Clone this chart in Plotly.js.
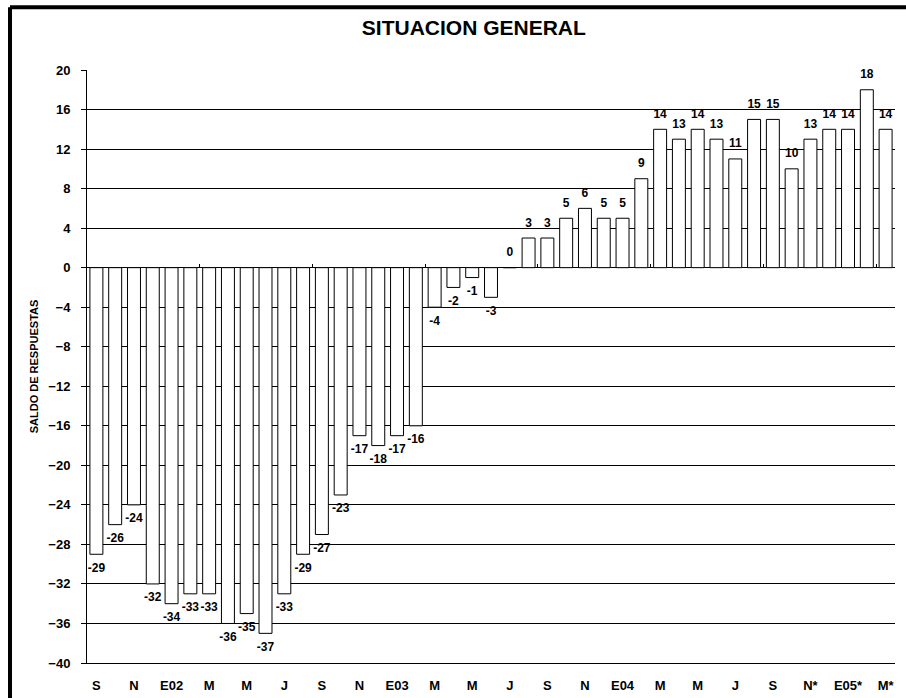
<!DOCTYPE html>
<html>
<head>
<meta charset="utf-8">
<script src="https://cdn.plot.ly/plotly-3.0.1.min.js"></script>
<style>html,body{margin:0;padding:0;background:#fff;}#chart{width:906px;height:698px;}</style>
</head>
<body>
<div id="chart"></div>
<script>
// Monthly balance of responses, Sep 2001 .. May 2005
var values = [-29,-26,-24,-32,-34,-33,-33,-36,-35,-37,-33,-29,-27,-23,-17,-18,-17,-16,-4,-2,-1,-3,0,3,3,5,6,5,5,9,14,13,14,13,11,15,15,10,13,14,14,18,14];
// Tick labels, one every two months
var tickLabels = ['S','N','E02','M','M','J','S','N','E03','M','M','J','S','N','E04','M','M','J','S','N*','E05*','M*'];
var titleText = 'SITUACION GENERAL';
var yTitleText = 'SALDO DE RESPUESTAS';

var xIdx = values.map(function(v,i){return i;});
var tickVals = tickLabels.map(function(t,i){return i*2;});
var sepTicks = [];
for (var k = 5.5; k < values.length; k += 6) sepTicks.push(k);

var FONT = 'Liberation Sans, Arial, sans-serif';

var traces = [
  {
    type: 'bar',
    x: xIdx,
    y: values,
    marker: {color: '#ffffff', line: {color: '#000000', width: 1}},
    hoverinfo: 'x+y',
    showlegend: false
  },
  {
    type: 'scatter', mode: 'markers+text',
    x: xIdx, y: values,
    text: values.map(String),
    textposition: values.map(function(v){return v < 0 ? 'bottom center' : 'top center';}),
    marker: {size: 12, opacity: 0},
    cliponaxis: false,
    textfont: {family: FONT, size: 12, color: '#000', weight: 'bold'},
    hoverinfo: 'skip', showlegend: false
  },
  {
    type: 'scatter', mode: 'markers',
    x: [], y: [], xaxis: 'x2', yaxis: 'y',
    showlegend: false, hoverinfo: 'skip'
  }
];

var layout = {
  width: 906, height: 698,
  margin: {l: 87, r: 11, t: 70, b: 35},
  paper_bgcolor: '#ffffff', plot_bgcolor: '#ffffff',
  bargap: 0.31,
  showlegend: false,
  font: {family: FONT, color: '#000'},
  title: {
    text: titleText,
    font: {family: FONT, size: 21, color: '#000', weight: 'bold'},
    x: 0.523, xref: 'container', xanchor: 'center',
    y: 0.9606, yref: 'container', yanchor: 'middle'
  },
  xaxis: {
    range: [-0.5, values.length - 0.5],
    tickmode: 'array', tickvals: tickVals, ticktext: tickLabels,
    ticks: '', showgrid: false, zeroline: false,
    showline: true, linecolor: '#000', linewidth: 1,
    ticklabelstandoff: 10,
    tickfont: {family: FONT, size: 13, color: '#000', weight: 'bold'},
    fixedrange: true
  },
  xaxis2: {
    overlaying: 'x', anchor: 'free', position: 40/60, side: 'bottom',
    range: [-0.5, values.length - 0.5],
    tickmode: 'array', tickvals: sepTicks, ticks: 'inside', ticklen: 4,
    tickcolor: '#000', tickwidth: 1,
    showticklabels: false, showgrid: false, zeroline: false, showline: false,
    fixedrange: true
  },
  yaxis: {
    range: [-40, 20],
    tickmode: 'linear', tick0: -40, dtick: 4,
    ticks: 'outside', ticklen: 5, tickcolor: '#000', tickwidth: 1,
    showgrid: true, gridcolor: '#000', gridwidth: 1,
    zeroline: true, zerolinecolor: '#000', zerolinewidth: 1,
    showline: true, linecolor: '#000', linewidth: 1,
    ticklabelstandoff: 8,
    tickfont: {family: FONT, size: 13, color: '#000', weight: 'bold'},
    title: {text: yTitleText, standoff: 7,
            font: {family: FONT, size: 11, color: '#000', weight: 'bold'}},
    fixedrange: true
  },
  shapes: [
    {type: 'line', xref: 'paper', yref: 'paper', x0: -0.0953, x1: -0.0953, y0: 1.106, y1: -0.2,
     line: {color: '#000', width: 4}},
    {type: 'line', xref: 'paper', yref: 'paper', x0: -0.0953, x1: 1.2, y0: 1.106, y1: 1.106,
     line: {color: '#000', width: 4}}
  ]
};

Plotly.newPlot('chart', traces, layout, {displayModeBar: false, staticPlot: true});
</script>
</body>
</html>
